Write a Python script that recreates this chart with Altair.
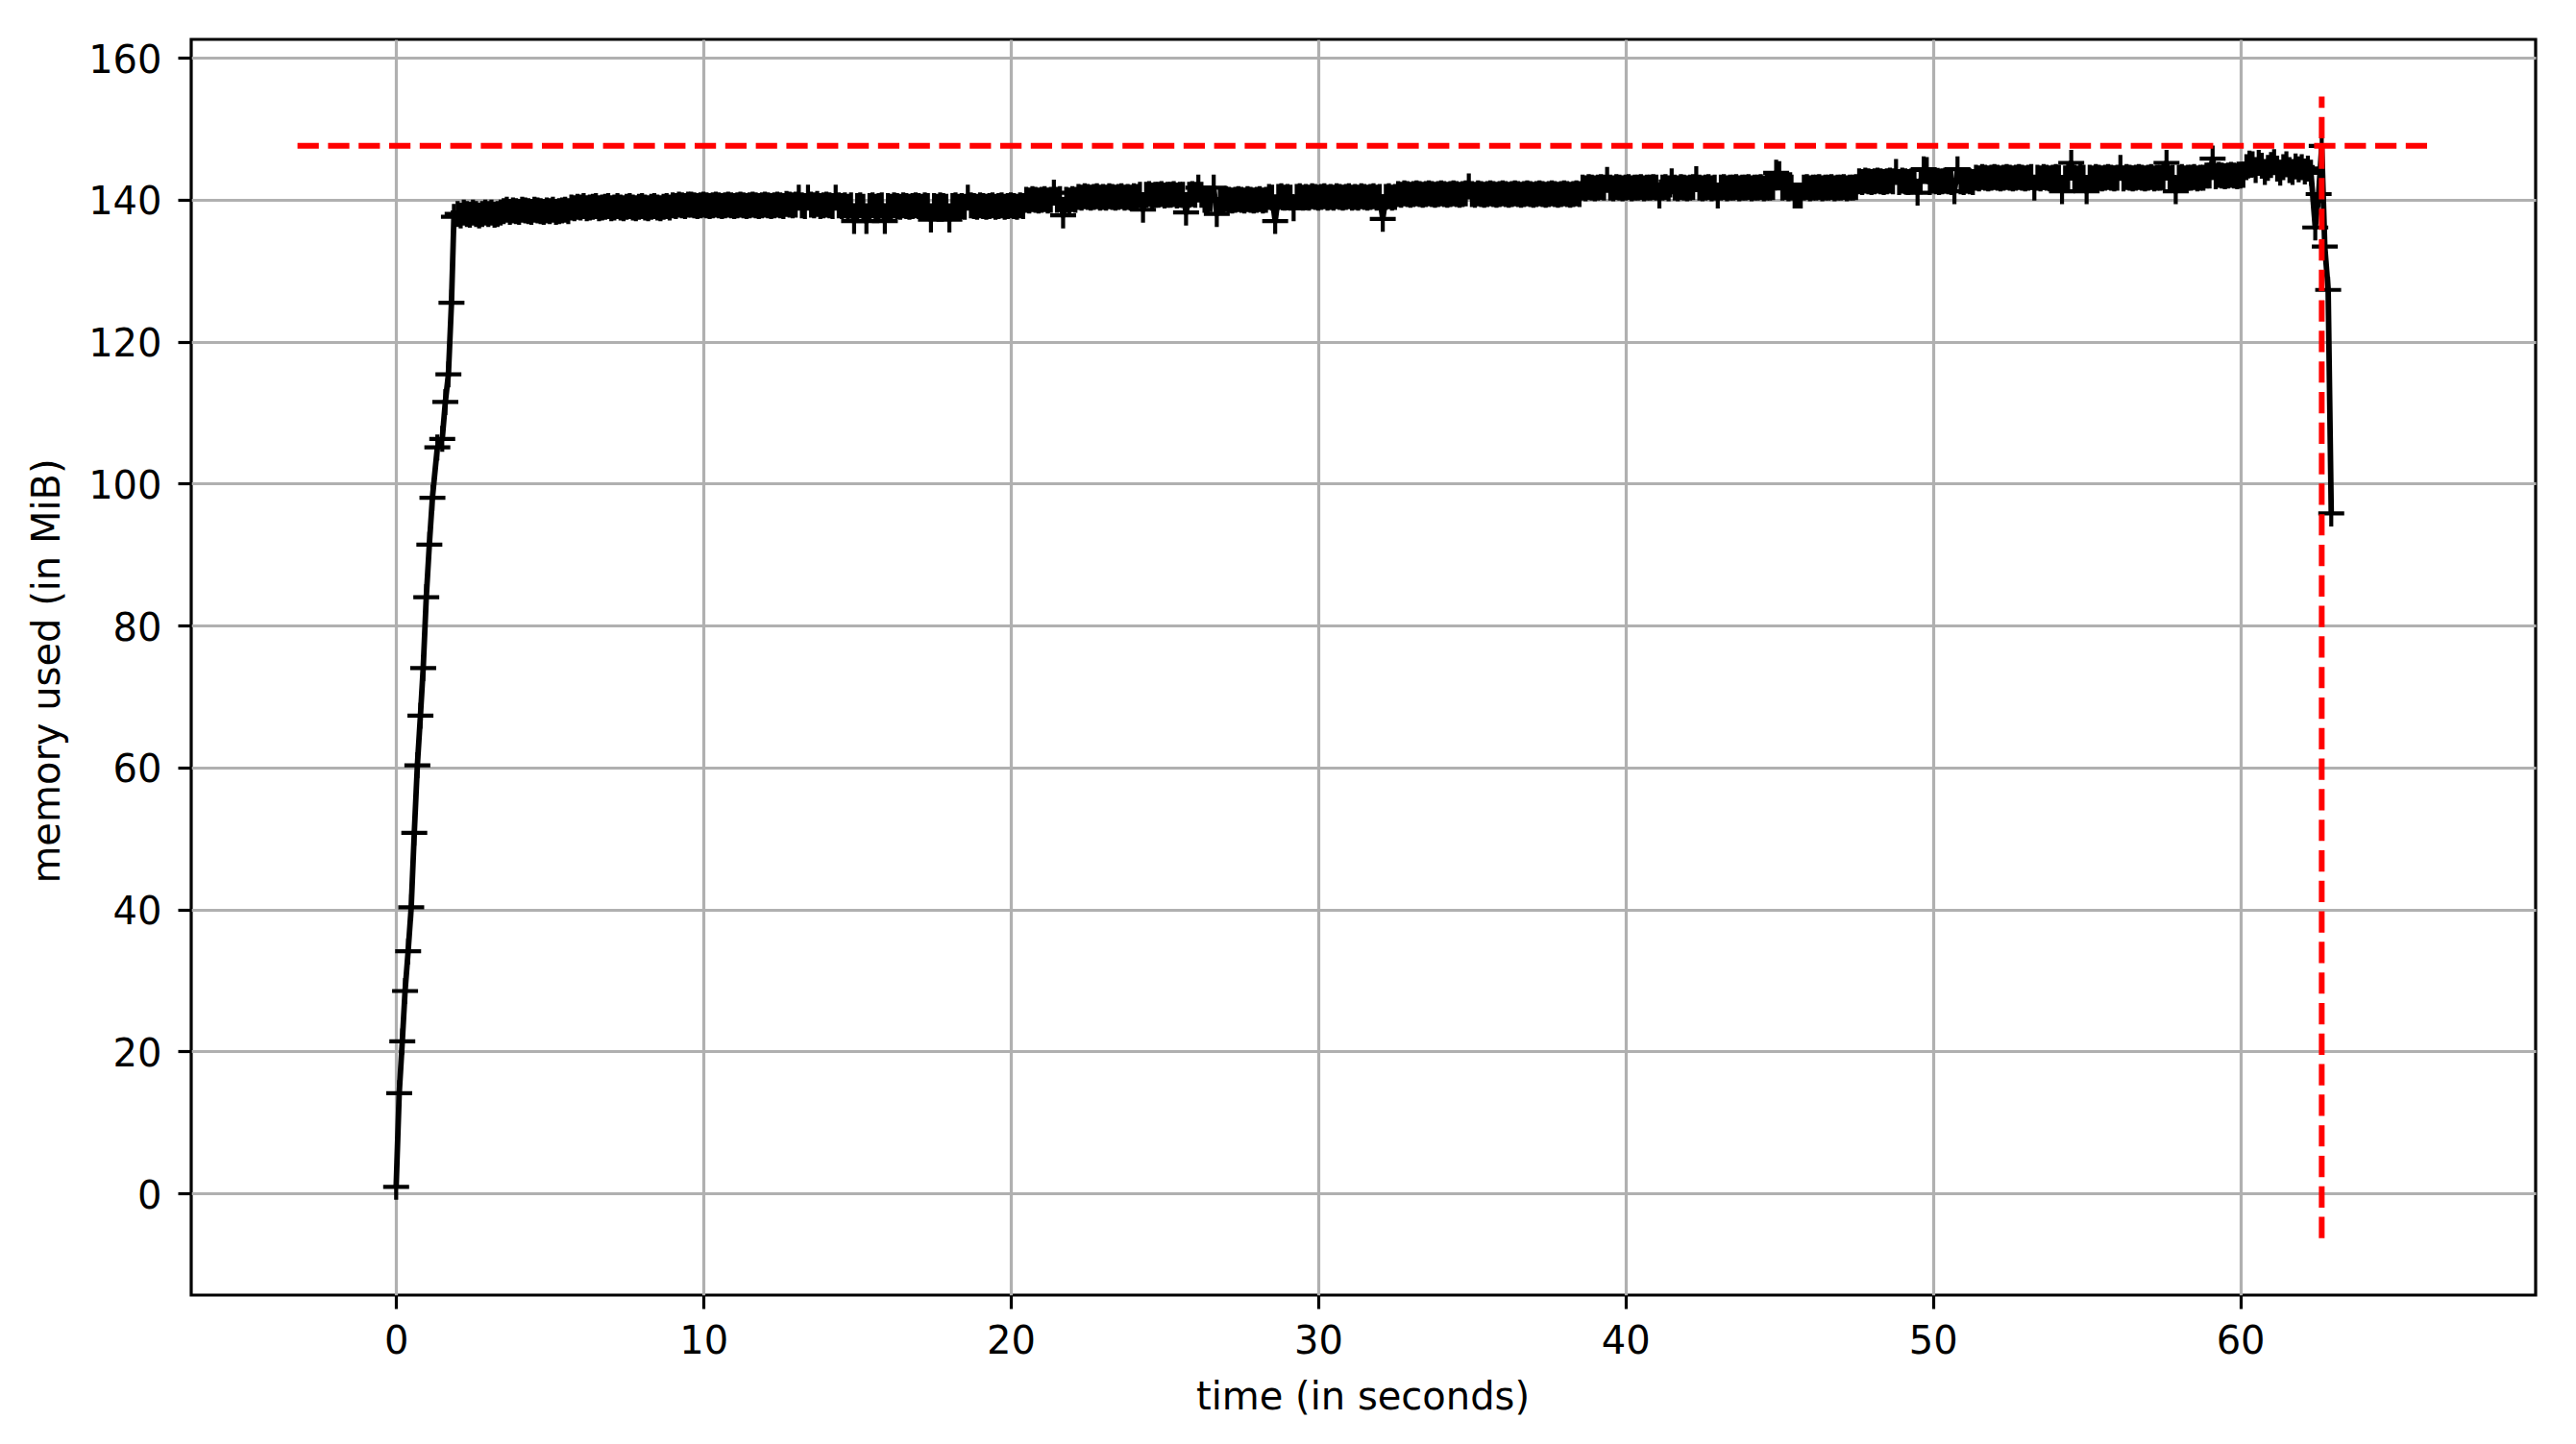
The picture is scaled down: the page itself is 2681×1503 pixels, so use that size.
import altair as alt
import pandas as pd

# ---- data (memory_profiler style trace) ----
ramp_t = [0.0, 0.1, 0.2, 0.29, 0.39, 0.49, 0.59, 0.69, 0.79, 0.88,
          0.98, 1.08, 1.18, 1.34, 1.5, 1.6, 1.7, 1.8, 1.88]
ramp_mem = [0.9, 14.1, 21.4, 28.5, 34.1, 40.3, 50.8, 60.3, 67.3, 74.0,
            84.0, 91.4, 98.0, 105.1, 106.3, 111.5, 115.4, 125.5, 137.6]

band_t = [
    2.0, 2.1, 2.2, 2.3, 2.4, 2.5, 2.6, 2.7, 2.8, 2.9,
    3.0, 3.1, 3.2, 3.3, 3.4, 3.5, 3.6, 3.7, 3.8, 3.9,
    4.0, 4.1, 4.2, 4.3, 4.4, 4.5, 4.6, 4.7, 4.8, 4.9,
    5.0, 5.1, 5.2, 5.3, 5.4, 5.5, 5.6, 5.7, 5.8, 5.9,
    6.0, 6.1, 6.2, 6.3, 6.4, 6.5, 6.6, 6.7, 6.8, 6.9,
    7.0, 7.1, 7.2, 7.3, 7.4, 7.5, 7.6, 7.7, 7.8, 7.9,
    8.0, 8.1, 8.2, 8.3, 8.4, 8.5, 8.6, 8.7, 8.8, 8.9,
    9.0, 9.1, 9.2, 9.3, 9.4, 9.5, 9.6, 9.7, 9.8, 9.9,
    10.0, 10.1, 10.2, 10.3, 10.4, 10.5, 10.6, 10.7, 10.8, 10.9,
    11.0, 11.1, 11.2, 11.3, 11.4, 11.5, 11.6, 11.7, 11.8, 11.9,
    12.0, 12.1, 12.2, 12.3, 12.4, 12.5, 12.6, 12.7, 12.8, 12.9,
    13.0, 13.1, 13.2, 13.3, 13.4, 13.5, 13.6, 13.7, 13.8, 13.9,
    14.0, 14.1, 14.2, 14.3, 14.4, 14.5, 14.6, 14.7, 14.8, 14.9,
    15.0, 15.1, 15.2, 15.3, 15.4, 15.5, 15.6, 15.7, 15.8, 15.9,
    16.0, 16.1, 16.2, 16.3, 16.4, 16.5, 16.6, 16.7, 16.8, 16.9,
    17.0, 17.1, 17.2, 17.3, 17.4, 17.5, 17.6, 17.7, 17.8, 17.9,
    18.0, 18.1, 18.2, 18.3, 18.4, 18.5, 18.6, 18.7, 18.8, 18.9,
    19.0, 19.1, 19.2, 19.3, 19.4, 19.5, 19.6, 19.7, 19.8, 19.9,
    20.0, 20.1, 20.2, 20.3, 20.4, 20.5, 20.6, 20.7, 20.8, 20.9,
    21.0, 21.1, 21.2, 21.3, 21.4, 21.5, 21.6, 21.7, 21.8, 21.9,
    22.0, 22.1, 22.2, 22.3, 22.4, 22.5, 22.6, 22.7, 22.8, 22.9,
    23.0, 23.1, 23.2, 23.3, 23.4, 23.5, 23.6, 23.7, 23.8, 23.9,
    24.0, 24.1, 24.2, 24.3, 24.4, 24.5, 24.6, 24.7, 24.8, 24.9,
    25.0, 25.1, 25.2, 25.3, 25.4, 25.5, 25.6, 25.7, 25.8, 25.9,
    26.0, 26.1, 26.2, 26.3, 26.4, 26.5, 26.6, 26.7, 26.8, 26.9,
    27.0, 27.1, 27.2, 27.3, 27.4, 27.5, 27.6, 27.7, 27.8, 27.9,
    28.0, 28.1, 28.2, 28.3, 28.4, 28.5, 28.6, 28.7, 28.8, 28.9,
    29.0, 29.1, 29.2, 29.3, 29.4, 29.5, 29.6, 29.7, 29.8, 29.9,
    30.0, 30.1, 30.2, 30.3, 30.4, 30.5, 30.6, 30.7, 30.8, 30.9,
    31.0, 31.1, 31.2, 31.3, 31.4, 31.5, 31.6, 31.7, 31.8, 31.9,
    32.0, 32.1, 32.2, 32.3, 32.4, 32.5, 32.6, 32.7, 32.8, 32.9,
    33.0, 33.1, 33.2, 33.3, 33.4, 33.5, 33.6, 33.7, 33.8, 33.9,
    34.0, 34.1, 34.2, 34.3, 34.4, 34.5, 34.6, 34.7, 34.8, 34.9,
    35.0, 35.1, 35.2, 35.3, 35.4, 35.5, 35.6, 35.7, 35.8, 35.9,
    36.0, 36.1, 36.2, 36.3, 36.4, 36.5, 36.6, 36.7, 36.8, 36.9,
    37.0, 37.1, 37.2, 37.3, 37.4, 37.5, 37.6, 37.7, 37.8, 37.9,
    38.0, 38.1, 38.2, 38.3, 38.4, 38.5, 38.6, 38.7, 38.8, 38.9,
    39.0, 39.1, 39.2, 39.3, 39.4, 39.5, 39.6, 39.7, 39.8, 39.9,
    40.0, 40.1, 40.2, 40.3, 40.4, 40.5, 40.6, 40.7, 40.8, 40.9,
    41.0, 41.1, 41.2, 41.3, 41.4, 41.5, 41.6, 41.7, 41.8, 41.9,
    42.0, 42.1, 42.2, 42.3, 42.4, 42.5, 42.6, 42.7, 42.8, 42.9,
    43.0, 43.1, 43.2, 43.3, 43.4, 43.5, 43.6, 43.7, 43.8, 43.9,
    44.0, 44.1, 44.2, 44.3, 44.4, 44.5, 44.6, 44.7, 44.8, 44.9,
    45.0, 45.1, 45.2, 45.3, 45.4, 45.5, 45.6, 45.7, 45.8, 45.9,
    46.0, 46.1, 46.2, 46.3, 46.4, 46.5, 46.6, 46.7, 46.8, 46.9,
    47.0, 47.1, 47.2, 47.3, 47.4, 47.5, 47.6, 47.7, 47.8, 47.9,
    48.0, 48.1, 48.2, 48.3, 48.4, 48.5, 48.6, 48.7, 48.8, 48.9,
    49.0, 49.1, 49.2, 49.3, 49.4, 49.5, 49.6, 49.7, 49.8, 49.9,
    50.0, 50.1, 50.2, 50.3, 50.4, 50.5, 50.6, 50.7, 50.8, 50.9,
    51.0, 51.1, 51.2, 51.3, 51.4, 51.5, 51.6, 51.7, 51.8, 51.9,
    52.0, 52.1, 52.2, 52.3, 52.4, 52.5, 52.6, 52.7, 52.8, 52.9,
    53.0, 53.1, 53.2, 53.3, 53.4, 53.5, 53.6, 53.7, 53.8, 53.9,
    54.0, 54.1, 54.2, 54.3, 54.4, 54.5, 54.6, 54.7, 54.8, 54.9,
    55.0, 55.1, 55.2, 55.3, 55.4, 55.5, 55.6, 55.7, 55.8, 55.9,
    56.0, 56.1, 56.2, 56.3, 56.4, 56.5, 56.6, 56.7, 56.8, 56.9,
    57.0, 57.1, 57.2, 57.3, 57.4, 57.5, 57.6, 57.7, 57.8, 57.9,
    58.0, 58.1, 58.2, 58.3, 58.4, 58.5, 58.6, 58.7, 58.8, 58.9,
    59.0, 59.1, 59.2, 59.3, 59.4, 59.5, 59.6, 59.7, 59.8, 59.9,
    60.0, 60.1, 60.2, 60.3, 60.4, 60.5, 60.6, 60.7, 60.8, 60.9,
    61.0, 61.1, 61.2, 61.3, 61.4, 61.5, 61.6, 61.7, 61.8, 61.9,
    62.0, 62.1, 62.2, 62.3,
]

band_mem = [
    138.0, 137.8, 138.2, 138.0, 137.9, 138.2, 138.0, 137.8, 138.0, 138.2,
    138.0, 138.2, 137.9, 138.0, 138.2, 138.4, 138.6, 138.3, 138.5, 138.4,
    138.3, 138.6, 138.5, 138.4, 138.3, 138.6, 138.5, 138.4, 138.3, 138.5,
    138.4, 138.6, 138.3, 138.4, 138.5, 138.6, 138.4, 138.9, 138.8, 139.0,
    138.9, 139.1, 138.8, 138.9, 139.0, 139.1, 138.8, 138.9, 139.0, 139.1,
    138.8, 138.9, 139.1, 138.9, 138.8, 139.0, 139.1, 138.9, 138.8, 139.0,
    139.1, 138.9, 138.8, 139.0, 139.1, 138.9, 138.8, 139.0, 139.1, 138.9,
    139.2, 139.1, 139.3, 139.2, 139.1, 139.3, 139.3, 139.2, 139.1, 139.2,
    139.3, 139.2, 139.1, 139.2, 139.3, 139.2, 139.1, 139.2, 139.3, 139.2,
    139.1, 139.2, 139.3, 139.2, 139.1, 139.2, 139.3, 139.2, 139.1, 139.2,
    139.3, 139.2, 139.1, 139.2, 139.3, 139.2, 139.1, 139.4, 139.3, 139.2,
    139.3, 140.3, 139.2, 139.1, 140.3, 139.3, 139.2, 139.4, 139.1, 139.2,
    139.3, 139.2, 139.1, 140.3, 139.2, 139.1, 139.2, 139.0, 139.2, 137.0,
    139.1, 139.2, 139.0, 137.0, 139.1, 139.2, 139.0, 139.1, 139.2, 137.0,
    139.1, 139.0, 139.2, 139.1, 139.0, 139.2, 139.1, 139.0, 139.1, 139.2,
    139.1, 139.0, 139.2, 139.1, 137.2, 139.1, 139.0, 139.2, 139.1, 139.0,
    137.2, 139.1, 139.2, 139.0, 139.1, 139.0, 140.3, 139.2, 139.1, 139.0,
    139.2, 139.1, 139.0, 139.1, 139.2, 139.0, 139.1, 139.2, 139.0, 139.1,
    139.2, 139.1, 139.0, 139.2, 139.1, 140.0, 139.9, 140.1, 140.0, 139.9,
    140.0, 140.1, 139.9, 140.0, 141.0, 140.0, 140.1, 137.8, 140.0, 139.9,
    140.1, 140.0, 140.4, 140.3, 140.5, 140.4, 140.3, 140.4, 140.5, 140.3,
    140.4, 140.3, 140.5, 140.4, 140.3, 140.4, 140.5, 140.3, 140.4, 140.3,
    140.5, 140.4, 140.7, 138.6, 140.7, 140.8, 140.6, 140.7, 140.7, 140.8,
    140.6, 140.7, 140.7, 140.8, 140.6, 140.7, 140.7, 138.2, 140.7, 140.8,
    140.7, 141.7, 140.7, 140.0, 139.9, 140.1, 141.7, 138.0, 140.0, 139.9,
    140.1, 140.0, 139.9, 140.0, 140.1, 140.0, 139.9, 140.1, 140.0, 139.9,
    140.0, 140.1, 139.9, 140.0, 140.4, 140.3, 137.0, 140.4, 140.5, 140.3,
    140.4, 140.3, 138.8, 140.4, 140.5, 140.3, 140.4, 140.3, 140.5, 140.4,
    140.3, 140.4, 140.5, 140.3, 140.4, 140.3, 140.5, 140.4, 140.3, 140.4,
    140.5, 140.3, 140.4, 140.3, 140.5, 140.4, 140.3, 140.4, 140.5, 140.3,
    140.4, 137.3, 140.4, 140.5, 140.3, 140.4, 140.8, 140.7, 140.9, 140.8,
    140.7, 140.8, 140.9, 140.8, 140.7, 140.8, 140.9, 140.8, 140.7, 140.8,
    140.9, 140.8, 140.7, 140.8, 140.9, 140.8, 140.7, 140.8, 140.9, 141.9,
    140.8, 140.7, 140.9, 140.8, 140.7, 140.8, 140.9, 140.8, 140.7, 140.8,
    140.9, 140.8, 140.7, 140.8, 140.9, 140.8, 140.7, 140.8, 140.9, 140.8,
    140.7, 140.8, 140.9, 140.8, 140.7, 140.8, 140.9, 140.8, 140.7, 140.8,
    140.9, 140.8, 140.7, 140.8, 140.9, 140.8, 141.7, 141.6, 141.8, 141.7,
    141.6, 141.7, 141.8, 141.7, 142.8, 141.7, 141.6, 141.8, 141.7, 141.6,
    141.7, 141.8, 141.6, 141.7, 141.7, 141.8, 141.6, 141.7, 141.7, 141.8,
    141.7, 140.6, 141.7, 141.8, 141.6, 142.6, 141.7, 141.6, 141.8, 141.7,
    141.6, 141.7, 141.8, 142.9, 141.7, 141.6, 141.7, 141.8, 141.6, 141.7,
    140.6, 141.7, 141.8, 141.6, 141.7, 141.7, 141.8, 141.6, 141.7, 141.7,
    141.8, 141.6, 141.7, 141.7, 141.8, 141.6, 141.7, 141.7, 141.8, 143.8,
    143.6, 141.7, 141.8, 141.6, 141.7, 140.6, 140.6, 140.6, 141.7, 141.8,
    141.6, 141.7, 141.7, 141.8, 141.6, 141.7, 141.7, 141.8, 141.6, 141.7,
    141.7, 141.8, 141.6, 141.7, 141.7, 141.8, 142.6, 142.5, 142.7, 142.6,
    142.5, 142.6, 142.7, 142.6, 142.5, 142.6, 142.7, 142.6, 143.9, 142.5,
    142.7, 142.6, 142.5, 142.6, 142.7, 141.0, 142.6, 144.3, 144.2, 142.5,
    142.7, 142.6, 142.5, 142.6, 142.7, 142.6, 142.5, 141.2, 144.3, 142.6,
    142.5, 142.7, 142.6, 142.5, 143.1, 143.0, 143.2, 143.1, 143.0, 143.1,
    143.2, 143.1, 143.0, 143.1, 143.2, 143.1, 143.0, 143.1, 143.2, 143.1,
    143.0, 143.1, 143.2, 141.7, 143.1, 143.0, 143.2, 143.1, 143.0, 143.1,
    143.2, 143.1, 141.2, 143.0, 143.2, 145.2, 143.1, 143.0, 143.2, 143.1,
    141.2, 143.1, 143.0, 143.2, 143.1, 143.0, 143.1, 143.2, 143.1, 143.0,
    143.1, 144.5, 143.0, 143.2, 143.1, 143.0, 143.1, 143.2, 143.1, 143.0,
    143.1, 143.2, 143.0, 143.1, 143.1, 143.2, 145.2, 143.0, 143.1, 141.2,
    143.1, 143.2, 143.0, 143.1, 143.1, 143.2, 143.0, 143.1, 143.1, 143.4,
    143.4, 145.8, 143.3, 143.5, 143.4, 143.3, 143.4, 143.5, 143.4, 143.3,
    143.4, 143.5, 144.6, 145.1, 145.0, 144.2, 145.2, 144.8, 143.9, 144.5,
    144.9, 145.3, 144.4, 143.8, 144.6, 145.0, 144.2, 143.9, 144.7, 144.3,
    144.6, 144.0, 144.4, 143.8,
]

tail_t = [62.44, 62.55, 62.65, 62.75, 62.86, 62.96]
tail_mem = [136.1, 140.8, 147.6, 133.4, 127.3, 95.8]

x_ticks = [0, 10, 20, 30, 40, 50, 60]
y_ticks = [0, 20, 40, 60, 80, 100, 120, 140, 160]
x_domain = [-6.668, 69.61]
y_domain = [-14.35, 162.6]
hline_x = [-3.21, 66.14]      # extent of the dashed max-memory line
vline_y = [-6.33, 154.55]     # extent of the dashed max-time line

# ---- build tables ----
t_all = ramp_t + band_t + tail_t
m_all = ramp_mem + band_mem + tail_mem
df = pd.DataFrame({"t": t_all, "mem": m_all})
peak = max(m_all)
peak_t = t_all[m_all.index(peak)]
hdf = pd.DataFrame({"t": [hline_x[0]], "t2": [hline_x[1]], "mem": [peak]})
vdf = pd.DataFrame({"t": [peak_t], "mem": [vline_y[0]], "mem2": [vline_y[1]]})

FONT = "DejaVu Sans"
FS = 40
xs = alt.Scale(domain=x_domain, nice=False, zero=False)
ys = alt.Scale(domain=y_domain, nice=False, zero=False)

x_axis = alt.Axis(
    values=x_ticks, format="d", title="time (in seconds)",
    grid=True, gridColor="#b0b0b0", gridWidth=3.2, domain=False,
    ticks=True, tickSize=14, tickWidth=3.2, tickColor="black",
    labelFont=FONT, labelFontSize=FS, labelColor="black",
    labelBaseline="alphabetic", labelPadding=46.6, labelAlign="center",
    labelFlush=False, labelOverlap=False,
    titleFont=FONT, titleFontSize=FS, titleFontWeight="normal", titleColor="black",
    titleX=1219, titleY=118.3, titleBaseline="alphabetic", titleAlign="center",
)
y_axis = alt.Axis(
    values=y_ticks, format="d", title="memory used (in MiB)",
    grid=True, gridColor="#b0b0b0", gridWidth=3.2, domain=False,
    ticks=True, tickSize=14, tickWidth=3.2, tickColor="black",
    labelFont=FONT, labelFontSize=FS, labelColor="black",
    labelBaseline="alphabetic", labelAlign="right", labelPadding=17,
    labelOffset=15, labelFlush=False, labelOverlap=False,
    titleFont=FONT, titleFontSize=FS, titleFontWeight="normal", titleColor="black",
    titleX=-137.3, titleY=657, titleAngle=270, titleBaseline="alphabetic",
    titleAlign="center",
)

X = alt.X("t:Q", scale=xs, axis=x_axis)
Y = alt.Y("mem:Q", scale=ys, axis=y_axis)

line = alt.Chart(df).mark_line(
    color="black", strokeWidth=5.8, strokeJoin="round"
).encode(x=X, y=Y)

pts = alt.Chart(df).mark_point(
    shape="M-1,0L1,0M0,-1L0,1", size=729, filled=False,
    stroke="black", strokeWidth=4.2, opacity=1,
).encode(x=X, y=Y)

hrule = alt.Chart(hdf).mark_rule(
    color="#ff0000", strokeWidth=6, strokeDash=[22.2, 9.6], strokeCap="butt"
).encode(x=X, x2="t2:Q", y=Y)

vrule = alt.Chart(vdf).mark_rule(
    color="#ff0000", strokeWidth=6, strokeDash=[22.2, 9.6], strokeCap="butt"
).encode(x=X, y=Y, y2="mem2:Q")

chart = alt.layer(line, pts, hrule, vrule).properties(
    width=2440, height=1307,
    autosize=alt.AutoSizeParams(type="none"),
    padding={"left": 191, "top": 33, "right": 30, "bottom": 140},
    background="white",
).configure_view(stroke="black", strokeWidth=3.2)

chart.save("out.html", embed_options={"renderer": "svg", "actions": False})
